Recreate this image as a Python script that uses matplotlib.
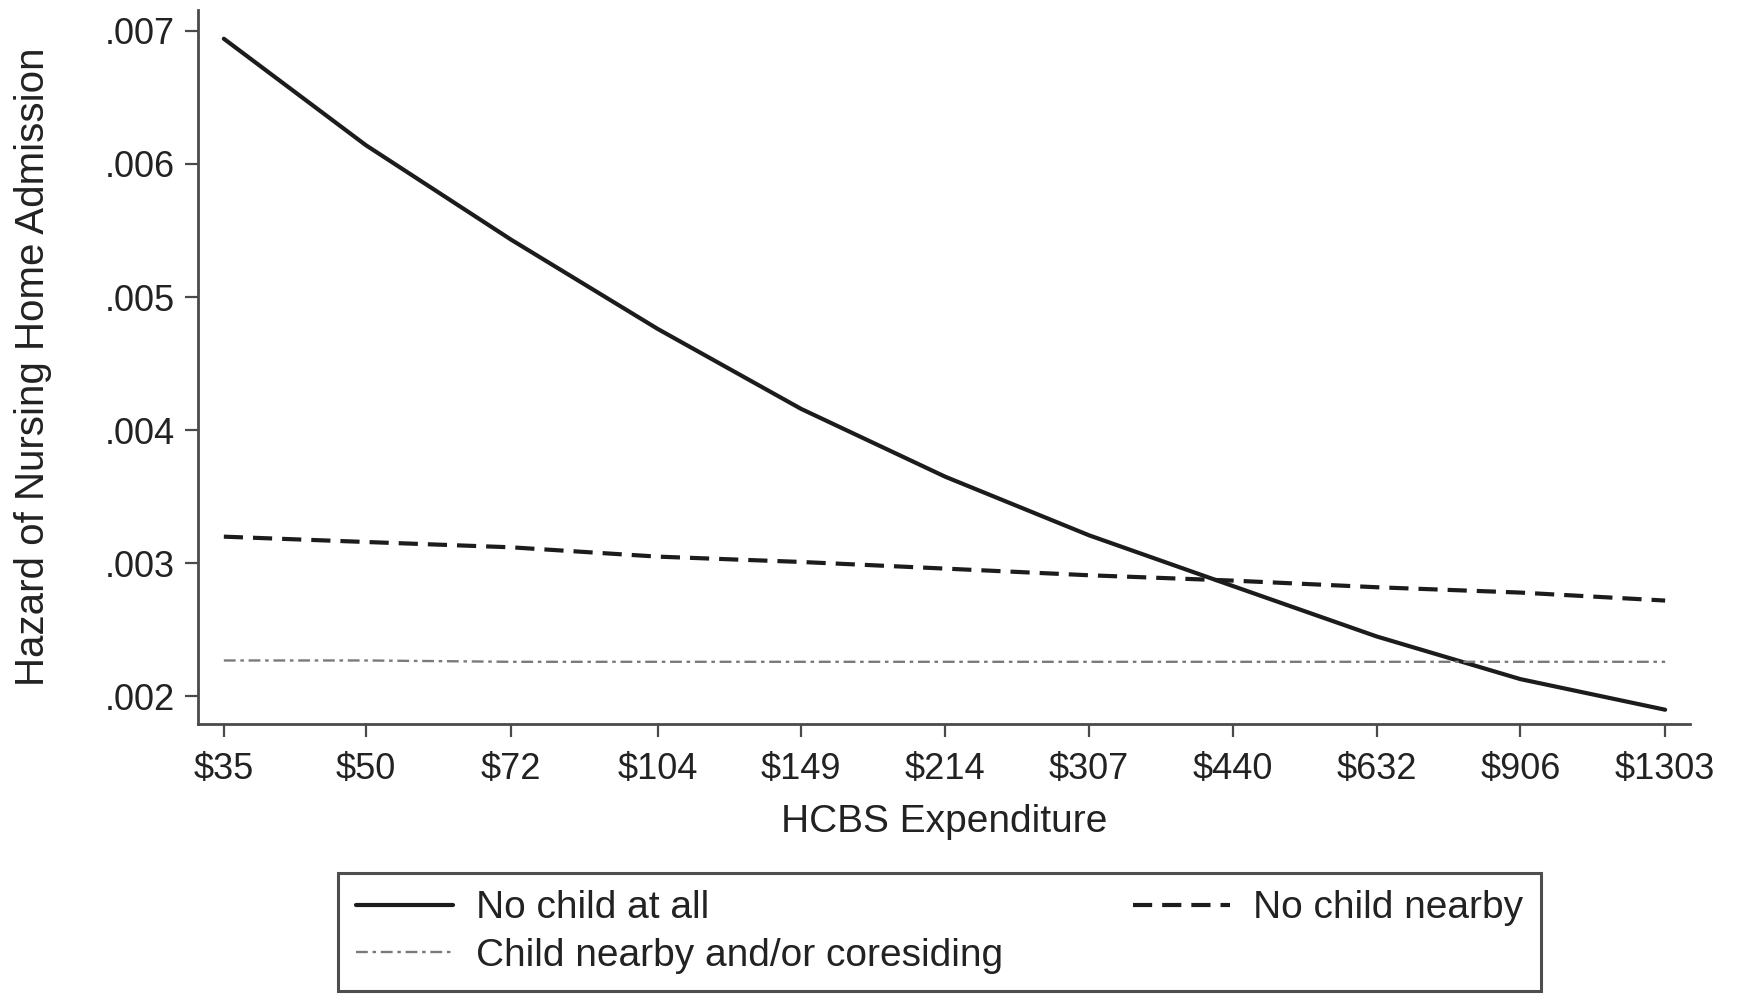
import matplotlib
matplotlib.use("Agg")
import matplotlib.pyplot as plt

# --- datos ---
hcbs = [35, 50, 72, 104, 149, 214, 307, 440, 632, 906, 1303]
x_labels = ["$35", "$50", "$72", "$104", "$149", "$214", "$307",
            "$440", "$632", "$906", "$1303"]

no_child_at_all = [0.00694, 0.00614, 0.00543, 0.00476, 0.00416, 0.00365,
                   0.00321, 0.00283, 0.00245, 0.00213, 0.00190]
no_child_nearby = [0.00320, 0.00316, 0.00312, 0.00305, 0.00301, 0.00296,
                   0.00291, 0.00287, 0.00282, 0.00278, 0.00272]
child_nearby = [0.00227, 0.00227, 0.00226, 0.00226, 0.00226, 0.00226,
                0.00226, 0.00226, 0.00226, 0.00226, 0.00226]

y_ticks = [0.002, 0.003, 0.004, 0.005, 0.006, 0.007]
y_labels = [".002", ".003", ".004", ".005", ".006", ".007"]

plt.rcParams["font.family"] = ["Liberation Sans", "DejaVu Sans"]
TXT = "#222222"
AXC = "#4a4a4a"

fig = plt.figure(figsize=(17.38, 9.99), dpi=100)
ax = fig.add_axes([0.1139, 0.2753, 0.9724 - 0.1139, 0.99 - 0.2753])

ax.plot(hcbs, no_child_at_all, color="#1c1c1c", lw=3.0,
        label="No child at all", solid_capstyle="round")
ax.plot(hcbs, child_nearby, color="#7a7a7a", lw=1.7,
        linestyle=(0, (5, 2, 1.5, 2)), label="Child nearby and/or coresiding")
ax.plot(hcbs, no_child_nearby, color="#1c1c1c", lw=3.0,
        linestyle=(0, (4.6, 2.4)), label="No child nearby")

ax.set_xscale("log")
ax.set_xlim(32.8, 1387)
ax.set_ylim(0.001793, 0.007156)

ax.set_xticks(hcbs)
ax.set_xticklabels(x_labels)
ax.minorticks_off()
ax.set_yticks(y_ticks)
ax.set_yticklabels(y_labels)

ax.tick_params(axis="both", direction="out", length=9.5, width=1.6,
               color=AXC, labelcolor=TXT, labelsize=26)
ax.tick_params(axis="x", pad=11)
ax.tick_params(axis="y", pad=7)

for lado in ["top", "right"]:
    ax.spines[lado].set_visible(False)
for lado in ["left", "bottom"]:
    ax.spines[lado].set_color(AXC)
    ax.spines[lado].set_linewidth(2.0)

ax.set_xlabel("HCBS Expenditure", fontsize=28, color=TXT, labelpad=12)
ax.set_ylabel("Hazard of Nursing Home Admission", fontsize=29, color=TXT,
              labelpad=38)

leg = ax.legend(loc="center", ncol=2, mode="expand",
                bbox_to_anchor=(338 / 1738, 5 / 999, 1203 / 1738, 124 / 999),
                bbox_transform=fig.transFigure,
                fontsize=28, frameon=True, fancybox=False, shadow=False,
                handlelength=2.5, handletextpad=0.6, borderpad=0.45,
                labelspacing=0.3, borderaxespad=0)
leg.get_frame().set_edgecolor("#222222")
leg.get_frame().set_linewidth(2.2)
for t in leg.get_texts():
    t.set_color(TXT)

fig.savefig("out.png", dpi=100, facecolor="white")
